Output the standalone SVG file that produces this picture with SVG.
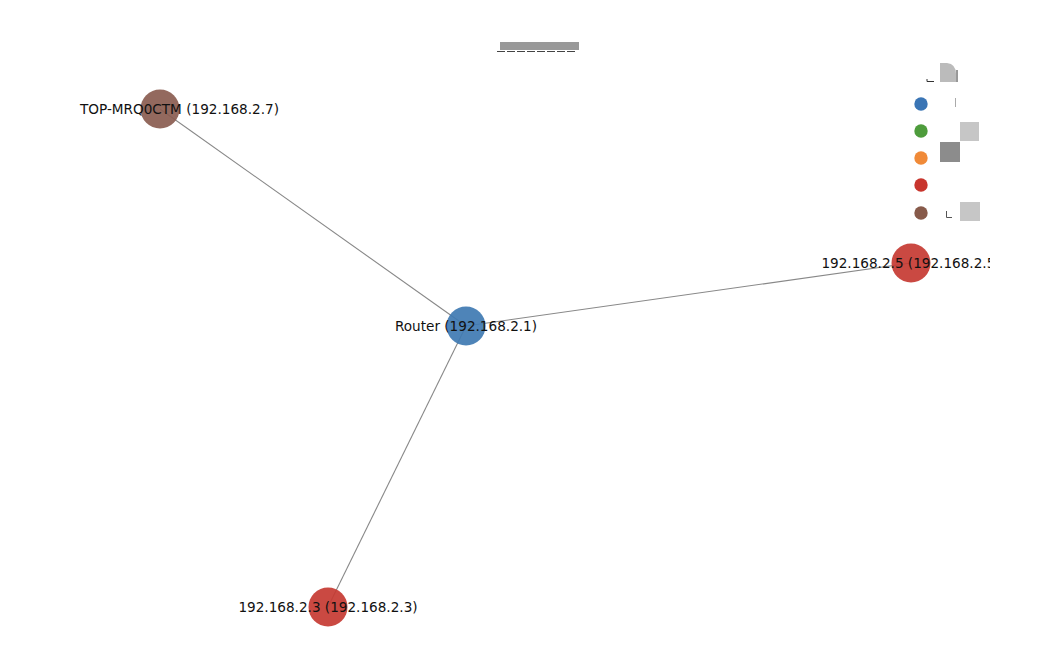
<svg xmlns="http://www.w3.org/2000/svg" width="1040" height="670" viewBox="0 0 1040 670">
<style>
.edge{stroke:#888888;stroke-width:1.1;fill:none}
.node{fill-opacity:0.92}
.lbl{font-family:"DejaVu Sans",sans-serif;font-size:13.6px;fill:#111111;text-anchor:middle}
.lg{stroke:none}
</style>
<defs>
<clipPath id="plot"><rect x="80" y="0" width="910" height="670"/></clipPath>
</defs>
<rect width="1040" height="670" fill="#ffffff"/>
<g id="title">
<rect x="500" y="42" width="79" height="8" fill="#999999"/>
<line x1="497" y1="51.5" x2="575" y2="51.5" stroke="#444444" stroke-width="1" stroke-dasharray="8,2"/>
</g>
<g id="connectors">
<line class="edge" x1="466" y1="326" x2="160" y2="109"/>
<line class="edge" x1="466" y1="326" x2="911" y2="263"/>
<line class="edge" x1="466" y1="326" x2="328" y2="607"/>
</g>
<g id="node-router">
<circle class="node" cx="466" cy="326" r="19.5" fill="#3f7ab2"/>
<text class="lbl" x="466" y="331">Router (192.168.2.1)</text>
</g>
<g id="node-desktop">
<circle class="node" cx="160" cy="109" r="19.5" fill="#8a5c50"/>
<text class="lbl" x="80" y="114" style="text-anchor:start">TOP-MRQ0CTM (192.168.2.7)</text>
</g>
<g id="node-25" clip-path="url(#plot)">
<circle class="node" cx="911" cy="263" r="19.5" fill="#c63a32"/>
<text class="lbl" x="911" y="268">192.168.2.5 (192.168.2.5)</text>
</g>
<g id="node-23">
<circle class="node" cx="328" cy="607" r="19.5" fill="#c63a32"/>
<text class="lbl" x="328" y="612">192.168.2.3 (192.168.2.3)</text>
</g>
<g id="legend">
<path d="M940,63 H947 Q956,64 956,74 V82 H940 Z" fill="#bbbbbb"/>
<line x1="957" y1="70" x2="957" y2="82" stroke="#333333" stroke-width="1"/>
<path d="M927,79 V81.5 H934" fill="none" stroke="#333333" stroke-width="1"/>
<line x1="955.5" y1="98" x2="955.5" y2="107" stroke="#aaaaaa" stroke-width="1"/>
<rect x="960" y="122" width="19" height="19" fill="#c6c6c6"/>
<rect x="940" y="142" width="20" height="20" fill="#8c8c8c"/>
<rect x="960" y="202" width="20" height="19" fill="#c6c6c6"/>
<path d="M946.5,211 V217.5 H952" fill="none" stroke="#555555" stroke-width="1"/>
<circle class="lg" cx="921" cy="104" r="6.7" fill="#3a75b5"/>
<circle class="lg" cx="921" cy="131" r="6.7" fill="#4e9c3c"/>
<circle class="lg" cx="921" cy="158" r="6.7" fill="#f08a38"/>
<circle class="lg" cx="921" cy="185" r="6.7" fill="#c8352d"/>
<circle class="lg" cx="921" cy="213" r="6.7" fill="#875a4a"/>
</g>
</svg>
